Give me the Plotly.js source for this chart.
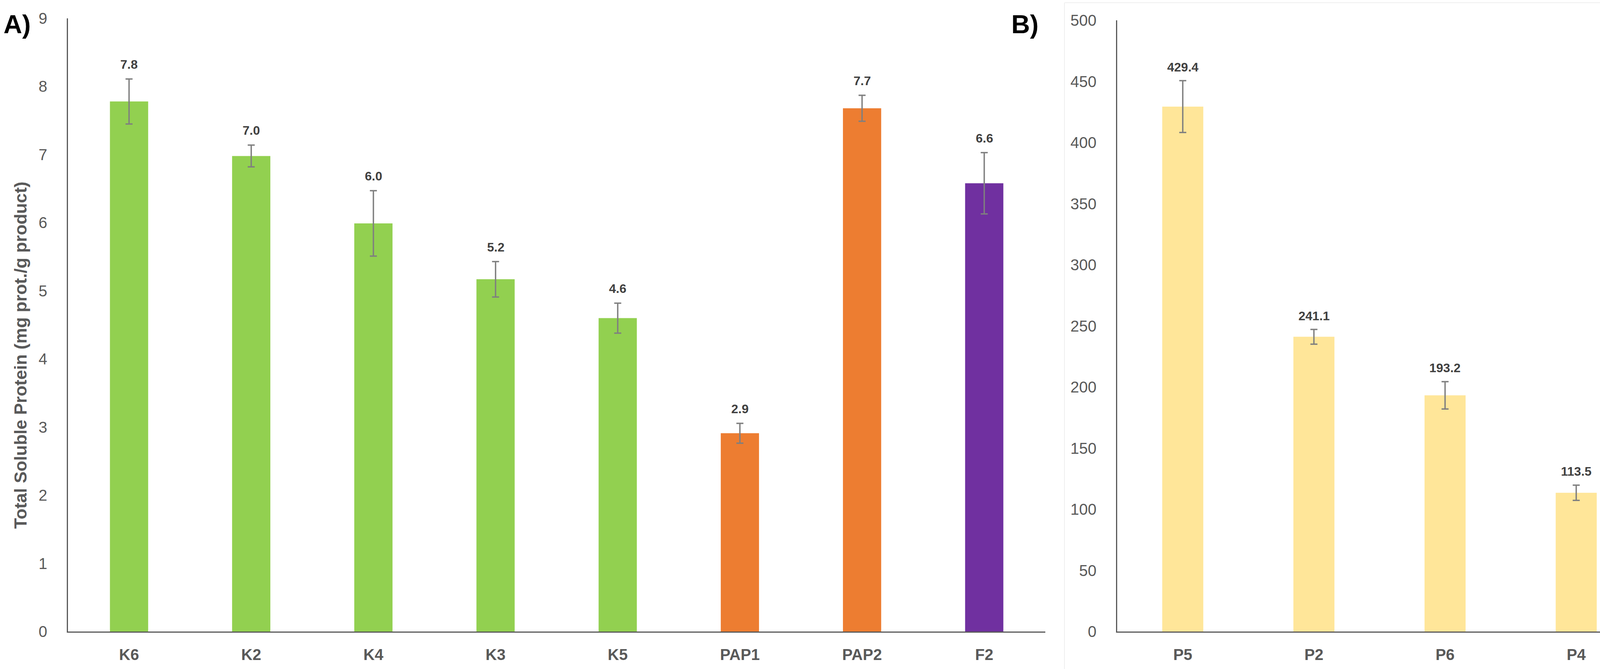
<!DOCTYPE html>
<html>
<head>
<meta charset="utf-8">
<script src="https://cdn.plot.ly/plotly-3.0.1.min.js"></script>
<style>
  html, body { margin: 0; padding: 0; background: #ffffff; }
  #chart { width: 4226px; height: 1713px; }
</style>
</head>
<body>
<div id="chart"></div>
<script>
// ---- Panel A data ----
const catsA = ["K6", "K2", "K4", "K3", "K5", "PAP1", "PAP2", "F2"];
const valsA = [7.78, 6.98, 5.99, 5.17, 4.60, 2.91, 7.68, 6.58];
const errA  = [0.33, 0.16, 0.48, 0.26, 0.22, 0.145, 0.19, 0.45];
const colorsA = ["#92D050", "#92D050", "#92D050", "#92D050", "#92D050", "#ED7D31", "#ED7D31", "#7030A0"];

// ---- Panel B data ----
const catsB = ["P5", "P2", "P6", "P4"];
const valsB = [429.4, 241.1, 193.2, 113.5];
const errB  = [21.2, 6.0, 11.2, 6.2];
const colorB = "#FFE699";

const ticksA = [0, 1, 2, 3, 4, 5, 6, 7, 8, 9];
const ticksB = [0, 50, 100, 150, 200, 250, 300, 350, 400, 450, 500];

const yTitle = "Total Soluble Protein (mg prot./g product)";
const panelLabels = ["A)", "B)"];

const W = 4226, H = 1713;
const FONT = "'Liberation Sans', Arial, sans-serif";
const tickColor = "#595959";
const labelColor = "#404040";
const errColor = "#7F7F7F";

const traceA = {
  type: "bar", x: catsA, y: valsA, xaxis: "x", yaxis: "y",
  marker: { color: colorsA },
  error_y: { type: "data", array: errA, visible: true, color: errColor, thickness: 3.5, width: 9 },
  hoverinfo: "x+y", showlegend: false
};
const traceB = {
  type: "bar", x: catsB, y: valsB, xaxis: "x2", yaxis: "y2",
  marker: { color: colorB },
  error_y: { type: "data", array: errB, visible: true, color: errColor, thickness: 3.5, width: 9 },
  hoverinfo: "x+y", showlegend: false
};

const annotations = [];
catsA.forEach((c, i) => {
  annotations.push({
    x: c, y: valsA[i] + errA[i], xref: "x", yref: "y",
    text: valsA[i].toFixed(1), showarrow: false,
    yanchor: "middle", yshift: 37,
    font: { family: FONT, size: 32, color: labelColor, weight: "bold" }
  });
});
catsB.forEach((c, i) => {
  annotations.push({
    x: c, y: valsB[i] + errB[i], xref: "x2", yref: "y2",
    text: valsB[i].toFixed(1), showarrow: false,
    yanchor: "middle", yshift: 35,
    font: { family: FONT, size: 32, color: labelColor, weight: "bold" }
  });
});
// y-axis title (rotated) for panel A
annotations.push({
  x: 52 / W, y: 1 - 910 / H, xref: "paper", yref: "paper",
  text: yTitle, textangle: -90, showarrow: false,
  xanchor: "center", yanchor: "middle",
  font: { family: FONT, size: 45, color: tickColor, weight: "bold" }
});
// panel letters
annotations.push({
  x: 44 / W, y: 1 - 62 / H, xref: "paper", yref: "paper",
  text: panelLabels[0], showarrow: false, xanchor: "center", yanchor: "middle",
  font: { family: FONT, size: 66, color: "#000000", weight: "bold" }
});
annotations.push({
  x: 2624 / W, y: 1 - 62 / H, xref: "paper", yref: "paper",
  text: panelLabels[1], showarrow: false, xanchor: "center", yanchor: "middle",
  font: { family: FONT, size: 66, color: "#000000", weight: "bold" }
});

const axisCommon = {
  showgrid: false, zeroline: false, showline: true,
  linecolor: tickColor, linewidth: 3, ticks: "", fixedrange: true
};

const layout = {
  width: W, height: H,
  margin: { l: 0, r: 0, t: 0, b: 0 },
  paper_bgcolor: "#ffffff", plot_bgcolor: "rgba(0,0,0,0)",
  bargap: 0.687,
  font: { family: FONT, color: tickColor },
  xaxis: Object.assign({}, axisCommon, {
    domain: [174 / W, 2676 / W], anchor: "y",
    tickfont: { family: FONT, size: 40, color: tickColor, weight: "bold" },
    ticklabelstandoff: 22
  }),
  yaxis: Object.assign({}, axisCommon, {
    domain: [(H - 1617) / H, (H - 47) / H], anchor: "x",
    range: [0, 9], tickvals: ticksA, ticktext: ticksA.map(String),
    tickfont: { family: FONT, size: 40, color: tickColor },
    ticklabelstandoff: 42
  }),
  xaxis2: Object.assign({}, axisCommon, {
    domain: [2860 / W, 4203 / W], anchor: "y2",
    tickfont: { family: FONT, size: 40, color: tickColor, weight: "bold" },
    ticklabelstandoff: 22
  }),
  yaxis2: Object.assign({}, axisCommon, {
    domain: [(H - 1617) / H, (H - 52) / H], anchor: "x2",
    range: [0, 500], tickvals: ticksB, ticktext: ticksB.map(String),
    tickfont: { family: FONT, size: 40, color: tickColor },
    ticklabelstandoff: 42
  }),
  annotations: annotations,
  shapes: [
    { type: "line", xref: "paper", yref: "paper", x0: 2725 / W, x1: 2725 / W, y0: 0, y1: 1 - 7 / H,
      line: { color: "#EFEFEF", width: 2 } },
    { type: "line", xref: "paper", yref: "paper", x0: 2725 / W, x1: 1, y0: 1 - 7 / H, y1: 1 - 7 / H,
      line: { color: "#EFEFEF", width: 2 } }
  ]
};

Plotly.newPlot("chart", [traceA, traceB], layout, { displayModeBar: false, staticPlot: true });
</script>
</body>
</html>
